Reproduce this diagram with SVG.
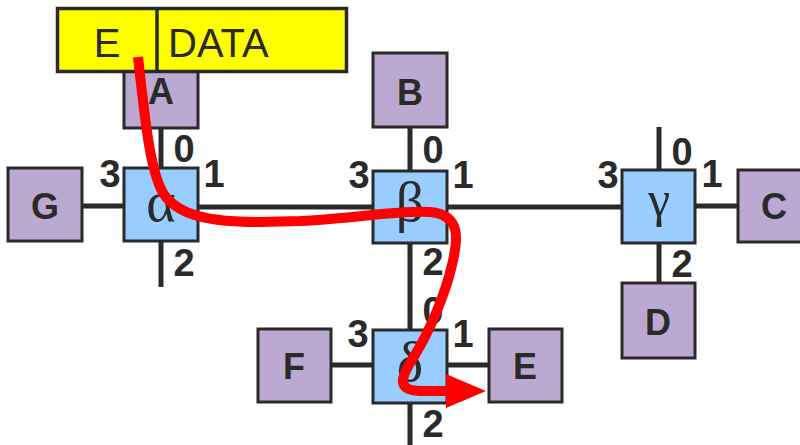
<svg xmlns="http://www.w3.org/2000/svg" width="800" height="445" viewBox="0 0 800 445">
  <defs>
    <style>
      .wire { stroke: #2a2a2a; stroke-width: 5; fill: none; }
      .host { fill: #bba9d1; stroke: #2a2a2a; stroke-width: 3; }
      .sw { fill: #99ccff; stroke: #2a2a2a; stroke-width: 3; }
      .lbl { font-family: "Liberation Sans", Arial, sans-serif; font-weight: bold; font-size: 36px; fill: #2a2a2a; text-anchor: middle; }
      .port { font-family: "Liberation Sans", Arial, sans-serif; font-weight: bold; font-size: 38px; fill: #2a2a2a; text-anchor: middle; }
      .greek { font-family: "Liberation Serif", "Times New Roman", serif; font-size: 56px; fill: #2a2a2a; text-anchor: middle; }
      .pkt { fill: #ffff00; stroke: #2a2a2a; stroke-width: 3.5; }
      .pkttxt { font-family: "Liberation Sans", Arial, sans-serif; font-size: 40px; fill: #2a2a2a; }
      .route { stroke: #ff0000; stroke-width: 10; fill: none; stroke-linecap: butt; stroke-linejoin: round; }
    </style>
    <marker id="arrow" markerUnits="userSpaceOnUse" markerWidth="40" markerHeight="34" refX="2" refY="17" orient="auto">
      <path d="M0,0 L40,17 L0,34 Z" fill="#ff0000"/>
    </marker>
  </defs>

  <!-- links between switches and hosts -->
  <g id="connectors">
    <line class="wire" x1="161" y1="128" x2="161" y2="168"/>
    <line class="wire" x1="161" y1="241" x2="161" y2="287"/>
    <line class="wire" x1="82" y1="206" x2="124" y2="206"/>
    <line class="wire" x1="198" y1="207" x2="373" y2="207"/>
    <line class="wire" x1="410" y1="127" x2="410" y2="171"/>
    <line class="wire" x1="410" y1="243" x2="410" y2="330"/>
    <line class="wire" x1="447" y1="207" x2="622" y2="207"/>
    <line class="wire" x1="659" y1="127" x2="659" y2="170"/>
    <line class="wire" x1="695" y1="206" x2="738" y2="206"/>
    <line class="wire" x1="659" y1="243" x2="659" y2="283"/>
    <line class="wire" x1="331" y1="365" x2="373" y2="365"/>
    <line class="wire" x1="447" y1="365" x2="489" y2="365"/>
    <line class="wire" x1="410" y1="403" x2="410" y2="445"/>
  </g>

  <!-- hosts -->
  <g id="host-A">
    <rect class="host" x="124" y="54" width="74" height="74"/>
    <text class="lbl" x="161" y="104">A</text>
  </g>
  <g id="host-B">
    <rect class="host" x="373" y="53" width="74" height="74"/>
    <text class="lbl" x="410" y="105">B</text>
  </g>
  <g id="host-G">
    <rect class="host" x="8" y="168" width="74" height="73"/>
    <text class="lbl" x="45" y="219">G</text>
  </g>
  <g id="host-C">
    <rect class="host" x="738" y="170" width="74" height="72"/>
    <text class="lbl" x="774" y="219">C</text>
  </g>
  <g id="host-D">
    <rect class="host" x="622" y="283" width="73" height="75"/>
    <text class="lbl" x="658" y="335">D</text>
  </g>
  <g id="host-F">
    <rect class="host" x="258" y="329" width="73" height="73"/>
    <text class="lbl" x="294" y="379">F</text>
  </g>
  <g id="host-E">
    <rect class="host" x="489" y="329" width="73" height="73"/>
    <text class="lbl" x="525" y="379">E</text>
  </g>

  <!-- switches with port numbers -->
  <g id="switch-alpha">
    <rect class="sw" x="124" y="168" width="74" height="73"/>
    <text class="greek" x="161" y="221">α</text>
    <text class="port" x="184" y="162">0</text>
    <text class="port" x="214" y="187">1</text>
    <text class="port" x="184" y="276">2</text>
    <text class="port" x="110" y="187">3</text>
  </g>
  <g id="switch-beta">
    <rect class="sw" x="373" y="171" width="74" height="72"/>
    <text class="greek" x="410" y="221">β</text>
    <text class="port" x="433" y="163">0</text>
    <text class="port" x="463" y="188">1</text>
    <text class="port" x="433" y="275">2</text>
    <text class="port" x="359" y="188">3</text>
  </g>
  <g id="switch-gamma">
    <rect class="sw" x="622" y="170" width="73" height="73"/>
    <text class="greek" x="659" y="216" style="font-size:50px">γ</text>
    <text class="port" x="682" y="165">0</text>
    <text class="port" x="712" y="187">1</text>
    <text class="port" x="682" y="277">2</text>
    <text class="port" x="608" y="188">3</text>
  </g>
  <g id="switch-delta">
    <rect class="sw" x="373" y="330" width="74" height="73"/>
    <text class="greek" x="410" y="381">δ</text>
    <text class="port" x="433" y="324">0</text>
    <text class="port" x="463" y="347">1</text>
    <text class="port" x="433" y="437">2</text>
    <text class="port" x="358" y="347">3</text>
  </g>

  <!-- packet: destination header and payload -->
  <g id="packet">
    <rect class="pkt" x="57.5" y="8.5" width="289" height="63"/>
    <line x1="157" y1="8.5" x2="157" y2="71.5" stroke="#2a2a2a" stroke-width="3.5"/>
    <text class="pkttxt" x="107" y="57" text-anchor="middle">E</text>
    <text class="pkttxt" x="168" y="57">DATA</text>
  </g>

  <!-- route taken by the packet -->
  <g id="route">
    <path class="route" marker-end="url(#arrow)" d="M138,57 C145,120 150,170 163,193 C178,216 210,222 260,222 L300,221 C360,218 398,210 430,212 C462,215 458,240 452,265 C445,295 430,330 415,355 C400,378 396,390 420,391 L448,391"/>
  </g>
</svg>
